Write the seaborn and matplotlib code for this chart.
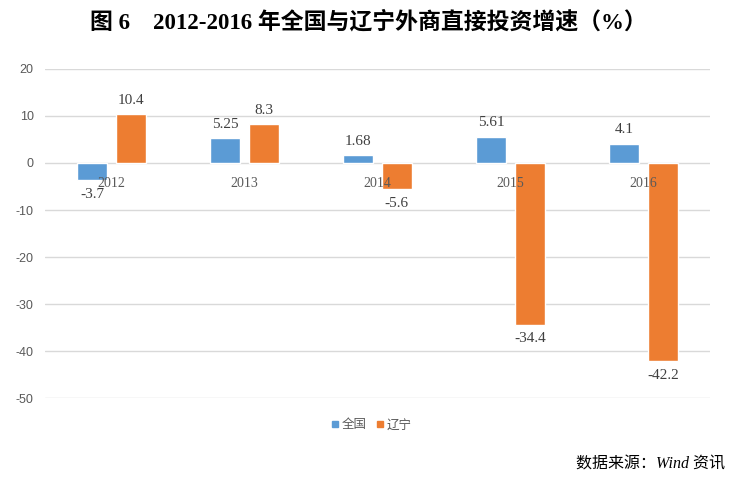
import matplotlib
matplotlib.use("Agg")
import matplotlib.pyplot as plt
import seaborn as sns
import pandas as pd
from matplotlib.lines import Line2D

years = ["2012", "2013", "2014", "2015", "2016"]
national = [-3.7, 5.25, 1.68, 5.61, 4.1]
liaoning = [10.4, 8.3, -5.6, -34.4, -42.2]
national_labels = ["-3.7", "5.25", "1.68", "5.61", "4.1"]
liaoning_labels = ["10.4", "8.3", "-5.6", "-34.4", "-42.2"]
series_names = ["全国", "辽宁"]
yticks = [20, 10, 0, -10, -20, -30, -40, -50]

colors = ["#5B9BD5", "#ED7D31"]

df = pd.DataFrame({
    "year": years * 2,
    "value": national + liaoning,
    "series": [series_names[0]] * 5 + [series_names[1]] * 5,
})

sns.set_theme(style="white")
plt.rcParams["font.family"] = ["Liberation Sans", "Noto Sans CJK SC"]

fig = plt.figure(figsize=(7.36, 4.79), dpi=100)
ax = fig.add_axes([0.061, 0.169, 0.904, 0.687])

sns.barplot(data=df, x="year", y="value", hue="series", order=years,
            hue_order=series_names, palette=colors, width=0.58, gap=0.22,
            saturation=1, ax=ax, legend=False, errorbar=None)

ax.set_ylim(-50, 20)
ax.set_xlim(-0.5, 4.5)
ax.set_yticks(yticks)
ax.set_yticklabels([str(v) for v in yticks], color="#595959", fontsize=9)
ax.yaxis.grid(True, color="#d9d9d9", linewidth=1)
ax.set_axisbelow(True)
for s in ax.spines.values():
    s.set_visible(False)
ax.tick_params(axis="y", length=0, pad=8)
ax.set_xticks([])
ax.set_xlabel("")
ax.set_ylabel("")

# category labels at zero line
for i, y in enumerate(years):
    ax.annotate(y, (i, 0), xytext=(0, -15), textcoords="offset points",
                ha="center", va="center", fontsize=10, color="#595959",
                family="Liberation Serif")

# value labels
for container, labels in zip(ax.containers, [national_labels, liaoning_labels]):
    for bar, lab in zip(container, labels):
        h = bar.get_height()
        x = bar.get_x() + bar.get_width() / 2
        off = 10 if h >= 0 else -10
        ax.annotate(lab, (x, h), xytext=(0, off), textcoords="offset points",
                    ha="center", va="center", fontsize=11, color="#404040",
                    family="Liberation Serif")

handles = [Line2D([0], [0], marker="s", color="none", markerfacecolor=c,
                  markeredgecolor=c, markersize=5) for c in colors]
leg = fig.legend(handles, series_names, loc="center", bbox_to_anchor=(0.505, 0.112),
                 ncol=2, frameon=False, fontsize=9, handlelength=0.6,
                 handletextpad=0.2, columnspacing=0.8)
for t in leg.get_texts():
    t.set_color("#595959")

fig.text(0.5, 0.953, "图 6    2012-2016 年全国与辽宁外商直接投资增速（%）",
         ha="center", va="center", fontsize=16.5, fontweight="bold",
         family=["Liberation Serif", "Noto Sans CJK SC"], color="#000000")

fig.text(0.985, 0.03, "数据来源：Wind 资讯", ha="right", va="center",
         fontsize=11.5, style="italic",
         family=["Liberation Serif", "Noto Sans CJK SC"], color="#000000")

fig.savefig("out.png", dpi=100)
